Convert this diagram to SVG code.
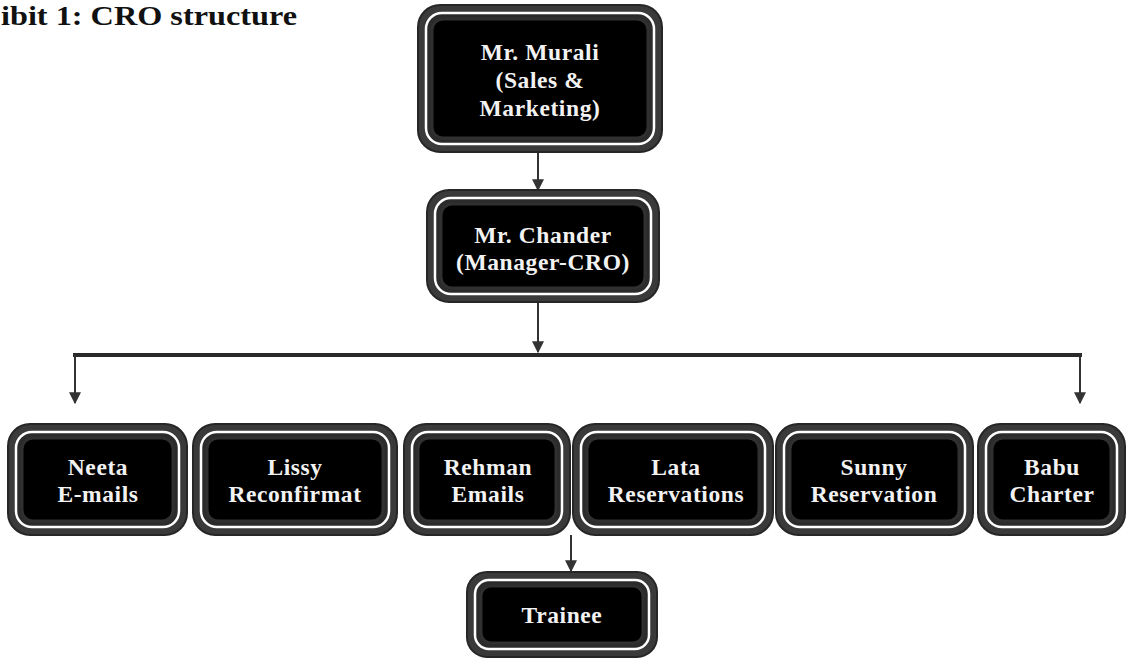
<svg xmlns="http://www.w3.org/2000/svg" width="1129" height="658" viewBox="0 0 1129 658">
<defs>
<style>
.outer{fill:#3a3a3a;stroke:#262626;stroke-width:2}
.ring{fill:#2b2b2b;stroke:#ffffff;stroke-width:2.5}
.core{fill:#000;stroke:#303030;stroke-width:3}
.lbl{font-family:"Liberation Serif","Times New Roman",serif;font-weight:bold;font-size:23.5px;letter-spacing:0.6px;fill:#f2f2f2;text-anchor:middle}
.title{font-family:"Liberation Serif","DejaVu Serif",serif;font-weight:bold;font-size:28px;fill:#111}
.conn{stroke:#333;stroke-width:2;fill:none}
.bar{stroke:#2a2a2a;stroke-width:4;fill:none}
</style>
<marker id="arr" viewBox="0 0 10 10" refX="9" refY="5" markerWidth="6" markerHeight="6" markerUnits="strokeWidth" orient="auto">
<path d="M0,0 L10,5 L0,10 z" fill="#333"/>
</marker>
</defs>
<rect width="1129" height="658" fill="#fff"/>
<text class="title" x="1" y="25" textLength="296" lengthAdjust="spacingAndGlyphs">ibit 1: CRO structure</text>

<g id="connectors">
<line class="conn" x1="538" y1="152" x2="538" y2="190" marker-end="url(#arr)"/>
<line class="conn" x1="538" y1="302" x2="538" y2="352" marker-end="url(#arr)"/>
<line class="bar" x1="73" y1="355" x2="1082" y2="355"/>
<line class="conn" x1="75" y1="355" x2="75" y2="403" marker-end="url(#arr)"/>
<line class="conn" x1="1080" y1="355" x2="1080" y2="403" marker-end="url(#arr)"/>
<line class="conn" x1="571" y1="535" x2="571" y2="571" marker-end="url(#arr)"/>
</g>

<g id="murali">
<rect class="outer" x="418" y="5" width="244" height="147" rx="22"/>
<rect class="ring" x="426" y="13" width="228" height="131" rx="16"/>
<rect class="core" x="432" y="19" width="216" height="119" rx="11"/>
<text class="lbl" x="540" y="60">Mr. Murali</text>
<text class="lbl" x="540" y="88">(Sales &amp;</text>
<text class="lbl" x="540" y="116">Marketing)</text>
</g>

<g id="chander">
<rect class="outer" x="427" y="190" width="232" height="112" rx="22"/>
<rect class="ring" x="435" y="198" width="216" height="96" rx="16"/>
<rect class="core" x="441" y="204" width="204" height="84" rx="11"/>
<text class="lbl" x="543" y="243">Mr. Chander</text>
<text class="lbl" x="543" y="270">(Manager-CRO)</text>
</g>

<g id="neeta">
<rect class="outer" x="8" y="424" width="179" height="111" rx="22"/>
<rect class="ring" x="16" y="432" width="163" height="95" rx="16"/>
<rect class="core" x="22" y="438" width="151" height="83" rx="11"/>
<text class="lbl" x="98" y="475">Neeta</text>
<text class="lbl" x="98" y="502">E-mails</text>
</g>

<g id="lissy">
<rect class="outer" x="193" y="424" width="204" height="111" rx="22"/>
<rect class="ring" x="201" y="432" width="188" height="95" rx="16"/>
<rect class="core" x="207" y="438" width="176" height="83" rx="11"/>
<text class="lbl" x="295" y="475">Lissy</text>
<text class="lbl" x="295" y="502">Reconfirmat</text>
</g>

<g id="rehman">
<rect class="outer" x="404" y="424" width="166" height="111" rx="22"/>
<rect class="ring" x="412" y="432" width="150" height="95" rx="16"/>
<rect class="core" x="418" y="438" width="138" height="83" rx="11"/>
<text class="lbl" x="488" y="475">Rehman</text>
<text class="lbl" x="488" y="502">Emails</text>
</g>

<g id="lata">
<rect class="outer" x="573" y="424" width="200" height="111" rx="22"/>
<rect class="ring" x="581" y="432" width="184" height="95" rx="16"/>
<rect class="core" x="587" y="438" width="172" height="83" rx="11"/>
<text class="lbl" x="676" y="475">Lata</text>
<text class="lbl" x="676" y="502">Reservations</text>
</g>

<g id="sunny">
<rect class="outer" x="776" y="424" width="197" height="111" rx="22"/>
<rect class="ring" x="784" y="432" width="181" height="95" rx="16"/>
<rect class="core" x="790" y="438" width="169" height="83" rx="11"/>
<text class="lbl" x="874" y="475">Sunny</text>
<text class="lbl" x="874" y="502">Reservation</text>
</g>

<g id="babu">
<rect class="outer" x="978" y="424" width="147" height="111" rx="22"/>
<rect class="ring" x="986" y="432" width="131" height="95" rx="16"/>
<rect class="core" x="992" y="438" width="119" height="83" rx="11"/>
<text class="lbl" x="1052" y="475">Babu</text>
<text class="lbl" x="1052" y="502">Charter</text>
</g>

<g id="trainee">
<rect class="outer" x="467" y="572" width="190" height="85" rx="20"/>
<rect class="ring" x="475" y="580" width="174" height="69" rx="14"/>
<rect class="core" x="481" y="586" width="162" height="57" rx="10"/>
<text class="lbl" x="562" y="623">Trainee</text>
</g>
</svg>
